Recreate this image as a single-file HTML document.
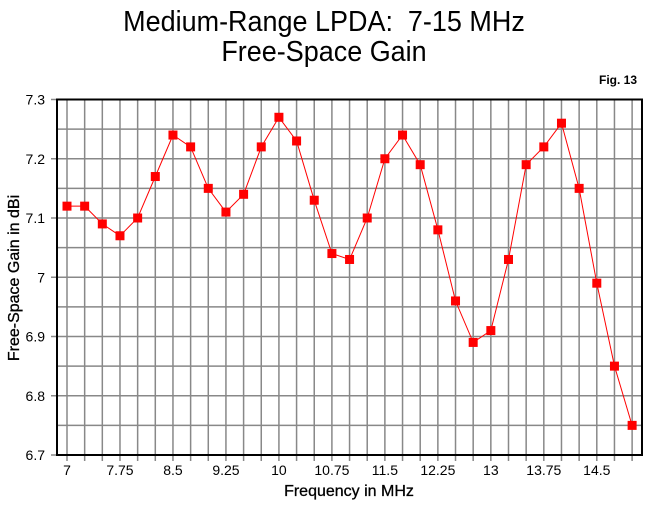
<!DOCTYPE html>
<html><head><meta charset="utf-8"><style>
body{margin:0;background:#fff}
svg text{font-family:"Liberation Sans",sans-serif}
</style></head><body>
<svg id="s" width="647" height="503" xmlns="http://www.w3.org/2000/svg">
<rect width="647" height="503" fill="#fff"/>
<text x="324" y="31" font-size="29" text-anchor="middle" transform="translate(324,0) scale(0.93,1) translate(-324,0)">Medium-Range LPDA:&#160; 7-15 MHz</text>
<text x="324" y="61" font-size="29" text-anchor="middle" transform="translate(324,0) scale(0.93,1) translate(-324,0)">Free-Space Gain</text>
<text x="637" y="84" font-size="12" font-weight="bold" text-anchor="end">Fig. 13</text>
<g id="grid"></g>
<text x="349" y="496" font-size="16" text-anchor="middle" stroke="#000" stroke-width="0.3">Frequency in MHz</text>
<text transform="translate(19,278) rotate(-90)" font-size="16" text-anchor="middle" stroke="#000" stroke-width="0.3">Free-Space Gain in dBi</text>
</svg>
<script>
var s=document.getElementById('grid'),h='';
var L=57,R=642,T=99.5,B=455;
function X(f){return 67+(f-7)/0.25*17.66}
function Y(v){return T+(7.3-v)/0.6*(B-T)}
for(var i=0;i<=32;i++){var x=X(7+i*0.25);h+='<line x1="'+x+'" y1="'+T+'" x2="'+x+'" y2="'+(B+6)+'" stroke="#888" stroke-width="1.5"/>';}
for(var j=1;j<12;j++){var y=T+j*(B-T)/12;h+='<line x1="'+L+'" y1="'+y+'" x2="'+R+'" y2="'+y+'" stroke="#888" stroke-width="1.5"/>';}
for(var j=0;j<=6;j++){var y=T+j*(B-T)/6;h+='<line x1="'+(L-6)+'" y1="'+y+'" x2="'+L+'" y2="'+y+'" stroke="#888" stroke-width="1.5"/>';
h+='<text x="45" y="'+(y+5)+'" font-size="14" text-anchor="end">'+(7.3-j*0.1).toFixed(1).replace('7.0','7')+'</text>';}
var lab=['7','7.75','8.5','9.25','10','10.75','11.5','12.25','13','13.75','14.5'];
lab.forEach(function(t){h+='<text x="'+X(+t)+'" y="475" font-size="14" text-anchor="middle">'+t+'</text>';});
h+='<rect x="'+L+'" y="'+T+'" width="'+(R-L)+'" height="'+(B-T)+'" fill="none" stroke="#000" stroke-width="2"/>';
var d=[7.12,7.12,7.09,7.07,7.10,7.17,7.24,7.22,7.15,7.11,7.14,7.22,7.27,7.23,7.13,7.04,7.03,7.10,7.20,7.24,7.19,7.08,6.96,6.89,6.91,7.03,7.19,7.22,7.26,7.15,6.99,6.85,6.75];
var p=d.map(function(v,i){return X(7+i*0.25).toFixed(1)+','+Y(v).toFixed(1)}).join(' ');
h+='<polyline points="'+p+'" fill="none" stroke="#f00" stroke-width="1"/>';
d.forEach(function(v,i){h+='<rect x="'+(X(7+i*0.25)-4.5)+'" y="'+(Y(v)-4.5)+'" width="9" height="9" fill="#f00"/>';});
s.innerHTML=h;
</script>
</body></html>
